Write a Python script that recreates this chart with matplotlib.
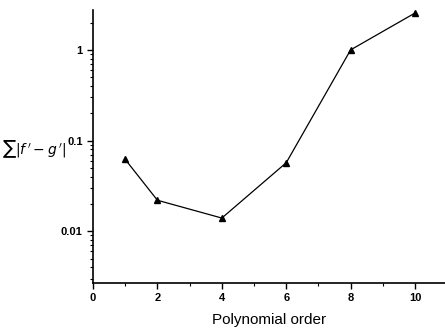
import matplotlib
matplotlib.use("Agg")
from matplotlib import pyplot as plt
from matplotlib.ticker import LogLocator, FixedLocator, NullFormatter

# data
order = [1, 2, 4, 6, 8, 10]
error = [0.062, 0.022, 0.014, 0.057, 1.0, 2.55]

x_ticks = [0, 2, 4, 6, 8, 10]
y_ticks = [0.01, 0.1, 1]
y_tick_labels = ["0.01", "0.1", "1"]

plt.rcParams['font.family'] = ['Liberation Sans', 'DejaVu Sans']

fig = plt.figure(figsize=(4.45, 3.34), dpi=100)
ax = fig.add_axes([0.209, 0.153, 0.791, 0.817])

ax.plot(order, error, color='black', linewidth=0.9,
        marker='^', markersize=5, markerfacecolor='black', markeredgecolor='black')

ax.set_yscale('log')
ax.set_xlim(0, 10.93)
ax.set_ylim(0.0027, 2.75)

# only left and bottom axis lines
for side in ['top', 'right']:
    ax.spines[side].set_visible(False)
for side in ['left', 'bottom']:
    ax.spines[side].set_linewidth(1.2)

ax.xaxis.set_major_locator(FixedLocator(x_ticks))
ax.xaxis.set_minor_locator(FixedLocator([1, 3, 5, 7, 9]))
ax.set_xticklabels([str(t) for t in x_ticks])
ax.yaxis.set_major_locator(FixedLocator(y_ticks))
ax.set_yticklabels(y_tick_labels)
ax.yaxis.set_minor_locator(LogLocator(base=10, subs=range(2, 10)))
ax.yaxis.set_minor_formatter(NullFormatter())

ax.tick_params(which='major', direction='out', length=4, width=1, labelsize=8)
ax.tick_params(which='minor', direction='out', length=2.5, width=0.8)
for lbl in ax.get_xticklabels() + ax.get_yticklabels():
    lbl.set_fontweight('bold')

ax.set_xlabel('Polynomial order', fontsize=11, labelpad=7)
ax.set_ylabel(r"$\sum|f\,' - g\,'|$", fontsize=10, rotation=0, labelpad=2,
              va='center', ha='right')
ax.yaxis.set_label_coords(-0.075, 0.49)

fig.savefig('out.png', dpi=100)
